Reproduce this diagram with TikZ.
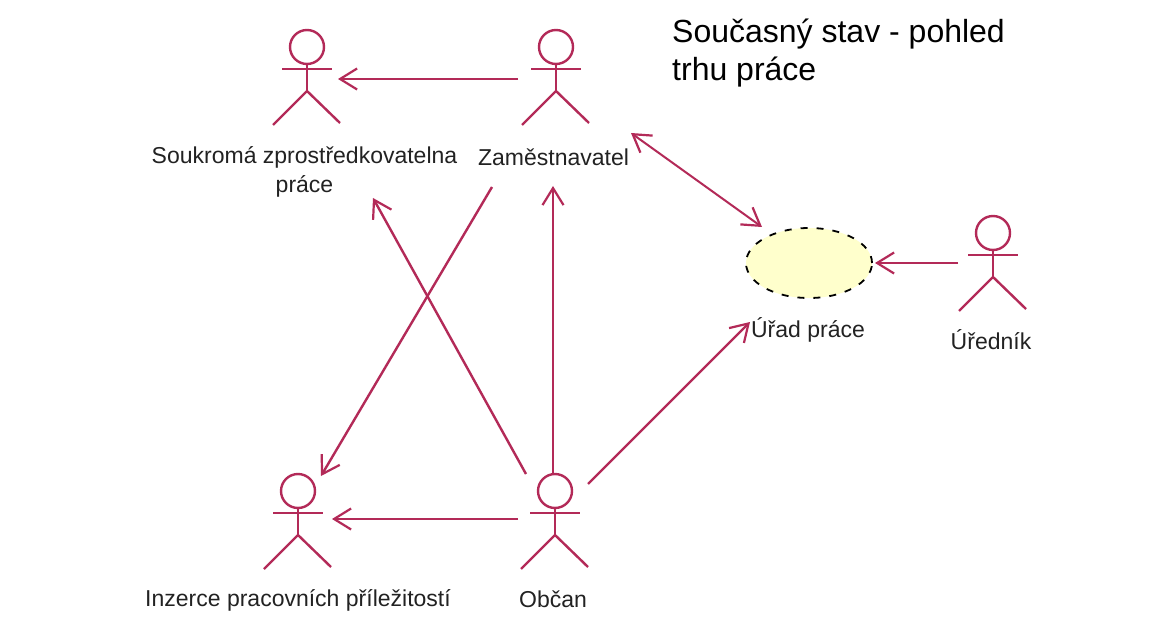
\documentclass[tikz,border=0pt]{standalone}
\usepackage{fontspec}
\setmainfont{Liberation Sans}
\usetikzlibrary{arrows.meta,shapes.geometric}
\definecolor{umlred}{HTML}{B32A58}
\definecolor{usefill}{HTML}{FFFFCC}
\definecolor{inkgray}{HTML}{222222}
\tikzset{
  x=1pt,y=-1pt,
  limb/.style={draw=umlred,line width=2.4pt},
  barb/.style={},
  link/.style={draw=umlred,line width=2.4pt,-{Straight Barb[length=17pt,width=21pt,line width=2.2pt]}},
  twoway/.style={draw=umlred,line width=2pt,{Straight Barb[length=17pt,width=21pt,line width=2.2pt]}-{Straight Barb[length=17pt,width=21pt,line width=2.2pt]}},
  label/.style={font=\fontsize{23}{29.5}\selectfont,text=inkgray,align=center,inner sep=0pt},
  heading/.style={font=\fontsize{32}{38}\selectfont,text=black,align=left,inner sep=0pt,anchor=north west},
  usecase/.style={ellipse,draw=black,dash pattern=on 7pt off 9pt,line width=1.8pt,fill=usefill,minimum width=126pt,minimum height=70pt,inner sep=0pt}
}
\newcommand{\umlactor}[3]{%
  % name, x, y of head centre
  \node[circle,limb,minimum size=34pt,inner sep=0pt] (#1) at (#2,#3) {};
  \draw[limb] (#2,#3+17) -- (#2,#3+44);
  \draw[limb] (#2-25,#3+22) -- (#2+25,#3+22);
  \draw[limb] (#2-34,#3+78) -- (#2,#3+44) -- (#2+33,#3+76);
}
\begin{document}
\begin{tikzpicture}
\useasboundingbox (0,0) rectangle (1169,620);
\fill[white] (0,0) rectangle (1169,620);

\umlactor{soukroma}{307}{47}
\umlactor{zamest}{556}{47}
\umlactor{inzerce}{298}{491}
\umlactor{obcan}{555}{491}
\umlactor{urednik}{993}{233}

\node[usecase] (urad) at (809,263) {};

\node[label] (lsoukroma) at (304.5,172) {Soukromá zprostředkovatelna\\práce};
\node[label] (lzamest) at (553.5,157) {Zaměstnavatel};
\node[label] (lurad) at (808,330) {Úřad práce};
\node[label] (lurednik) at (991,340) {Úředník};
\node[label] (linzerce) at (298,600) {Inzerce pracovních příležitostí};
\node[label] (lobcan) at (553,599) {Občan};
\node[heading] (title) at (672,19) {Současný stav - pohled\\trhu práce};

\coordinate (a1) at (518,79);   \coordinate (b1) at (338,79);
\coordinate (a2) at (958,263);  \coordinate (b2) at (875,263);
\coordinate (a3) at (631,133);  \coordinate (b3) at (762,227);
\coordinate (a4) at (518,519);  \coordinate (b4) at (332,519);
\coordinate (a5) at (553,475);  \coordinate (b5) at (553,186);
\coordinate (a6) at (526,474);  \coordinate (b6) at (373,198);
\coordinate (a7) at (588,484);  \coordinate (b7) at (750,322);
\coordinate (a8) at (492,187);  \coordinate (b8) at (321,476);

\draw[link] (a1) -- (b1);
\draw[link] (a2) -- (b2);
\draw[twoway] (a3) -- (b3);
\draw[link] (a4) -- (b4);
\draw[link] (a5) -- (b5);
\draw[link] (a6) -- (b6);
\draw[link] (a7) -- (b7);
\draw[link] (a8) -- (b8);
\end{tikzpicture}
\end{document}
